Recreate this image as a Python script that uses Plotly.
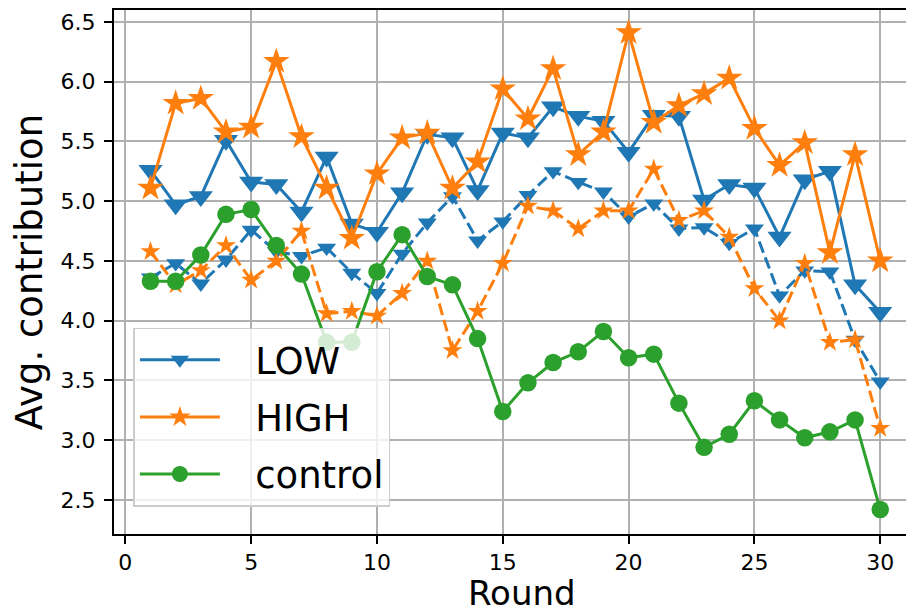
import plotly.graph_objects as go

rounds = list(range(1, 31))

low_solid = [5.26, 4.97, 5.04, 5.51, 5.16, 5.14, 4.91, 5.37, 4.81, 4.74,
             5.07, 5.56, 5.53, 5.09, 5.57, 5.53, 5.79, 5.71, 5.67, 5.41,
             5.72, 5.71, 5.01, 5.14, 5.11, 4.70, 5.18, 5.25, 4.30, 4.07]
low_dashed = [4.36, 4.48, 4.31, 4.51, 4.76, 4.58, 4.54, 4.61, 4.40, 4.23,
              4.56, 4.82, 5.04, 4.67, 4.83, 5.05, 5.25, 5.16, 5.08, 4.87,
              4.98, 4.77, 4.78, 4.65, 4.77, 4.21, 4.42, 4.41, 3.84, 3.49]
high_solid = [5.11, 5.82, 5.86, 5.58, 5.62, 6.17, 5.54, 5.11, 4.69, 5.23,
              5.53, 5.57, 5.11, 5.33, 5.94, 5.69, 6.11, 5.39, 5.58, 6.41,
              5.66, 5.80, 5.90, 6.03, 5.61, 5.30, 5.49, 4.57, 5.39, 4.50]
high_dashed = [4.58, 4.30, 4.42, 4.63, 4.34, 4.50, 4.75, 4.06, 4.08, 4.04,
               4.23, 4.50, 3.75, 4.08, 4.48, 4.96, 4.92, 4.77, 4.92, 4.92,
               5.27, 4.84, 4.92, 4.70, 4.27, 4.00, 4.48, 3.82, 3.84, 3.10]
control = [4.33, 4.33, 4.55, 4.89, 4.93, 4.63, 4.39, 3.82, 3.82, 4.41,
           4.72, 4.37, 4.30, 3.85, 3.24, 3.48, 3.65, 3.74, 3.91, 3.69,
           3.72, 3.31, 2.94, 3.05, 3.33, 3.17, 3.02, 3.07, 3.17, 2.42]

BLUE = "#1f77b4"
ORANGE = "#ff7f0e"
GREEN = "#2ca02c"
FONT = "DejaVu Sans"
PAD = "\u2002\u00a0"  # gap between legend line sample and label

fig = go.Figure()

fig.add_trace(go.Scatter(x=rounds, y=low_solid, mode="lines+markers", name=PAD + "LOW",
                         legendgroup="LOW",
                         line=dict(color=BLUE, width=3),
                         marker=dict(symbol="triangle-down", size=21, color=BLUE)))
fig.add_trace(go.Scatter(x=rounds, y=low_dashed, mode="lines+markers", showlegend=False,
                         line=dict(color=BLUE, width=3, dash="12px,5px"),
                         marker=dict(symbol="triangle-down", size=16.5, color=BLUE)))
fig.add_trace(go.Scatter(x=rounds, y=high_solid, mode="lines+markers", name=PAD + "HIGH",
                         legendgroup="HIGH",
                         line=dict(color=ORANGE, width=3),
                         marker=dict(symbol="star", size=20, color=ORANGE)))
fig.add_trace(go.Scatter(x=rounds, y=high_dashed, mode="lines+markers", showlegend=False,
                         line=dict(color=ORANGE, width=3, dash="12px,5px"),
                         marker=dict(symbol="star", size=15, color=ORANGE)))
fig.add_trace(go.Scatter(x=rounds, y=control, mode="lines+markers", name=PAD + "control",
                         legendgroup="control",
                         line=dict(color=GREEN, width=3),
                         marker=dict(symbol="circle", size=17.5, color=GREEN)))

axis_common = dict(
    showline=True, linecolor="black", linewidth=2,
    ticks="outside", ticklen=8, tickwidth=2, tickcolor="black",
    showgrid=True, gridcolor="#b0b0b0", gridwidth=1.5,
    zeroline=False,
    tickfont=dict(family=FONT, size=22, color="black"),
)

fig.update_xaxes(range=[-0.45, 31.66], dtick=5, tick0=0, mirror=True,
                 automargin=False, **axis_common)
fig.update_yaxes(range=[2.215, 6.60], dtick=0.5, tick0=2.5, tickformat=".1f",
                 ticklabelstandoff=4,
                 title=dict(text="Avg. contribution", font=dict(family=FONT, size=37, color="black"), standoff=10),
                 automargin=False, **axis_common)

# x-axis title placed as an annotation so it stays inside the canvas
fig.add_annotation(text="Round", xref="paper", yref="paper",
                   x=(514 - 106) / 808, y=0, xanchor="center", yanchor="bottom",
                   yshift=-80, showarrow=False, borderpad=0,
                   font=dict(family=FONT, size=34, color="black"))

fig.update_layout(
    width=914, height=614,
    margin=dict(l=106, r=0, t=2, b=88, pad=0),
    paper_bgcolor="white", plot_bgcolor="white",
    font=dict(family=FONT, color="black"),
    legend=dict(x=0.024, y=0.052, xanchor="left", yanchor="bottom",
                bgcolor="rgba(255,255,255,0.8)", bordercolor="#cccccc", borderwidth=1.5,
                font=dict(family=FONT, size=37, color="black"),
                itemwidth=80, tracegroupgap=6),
)

fig.write_html("out.html")
